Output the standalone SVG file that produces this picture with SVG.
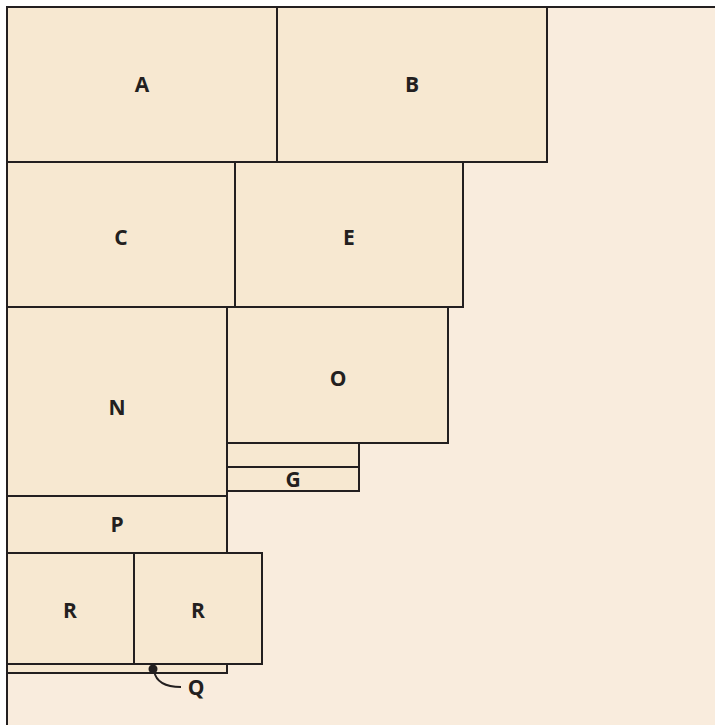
<svg xmlns="http://www.w3.org/2000/svg" width="715" height="725" viewBox="0 0 715 725">
<style>
.bx{fill:#f7e8d1;stroke:#231f20;stroke-width:2}
.lb{font-family:"Open Sans","Liberation Sans",sans-serif;font-weight:bold;font-size:21px;fill:#231f20;text-anchor:middle}
</style>
<rect x="0" y="0" width="715" height="725" fill="#ffffff"/>
<rect x="7" y="7" width="708" height="718" fill="#f9ecdd"/>
<g id="A"><rect class="bx" x="7" y="7" width="270" height="155"/><text class="lb" x="142" y="92">A</text></g>
<g id="B"><rect class="bx" x="277" y="7" width="270" height="155"/><text class="lb" x="412" y="92">B</text></g>
<g id="C"><rect class="bx" x="7" y="162" width="228" height="145"/><text class="lb" x="121" y="245">C</text></g>
<g id="E"><rect class="bx" x="235" y="162" width="228" height="145"/><text class="lb" x="349" y="245">E</text></g>
<g id="O"><rect class="bx" x="227" y="307" width="221" height="136"/><text class="lb" x="338" y="386">O</text></g>
<g id="strip"><rect class="bx" x="227" y="443" width="132" height="24"/></g>
<g id="G"><rect class="bx" x="227" y="467" width="132" height="24"/><text class="lb" x="293" y="487">G</text></g>
<g id="N"><rect class="bx" x="7" y="307" width="220" height="189"/><text class="lb" x="117" y="415">N</text></g>
<g id="P"><rect class="bx" x="7" y="496" width="220" height="57"/><text class="lb" x="117" y="532">P</text></g>
<g id="Qstrip"><rect class="bx" x="7" y="664" width="220" height="9"/></g>
<g id="R1"><rect class="bx" x="7" y="553" width="127" height="111"/><text class="lb" x="70" y="618">R</text></g>
<g id="R2"><rect class="bx" x="134" y="553" width="128" height="111"/><text class="lb" x="198" y="618">R</text></g>
<g id="frame" fill="none" stroke="#231f20" stroke-width="2"><path d="M7 725 V7 H715"/></g>
<g id="connectors">
<circle cx="153" cy="669" r="4.5" fill="#231f20"/>
<path d="M154 671 C156 682 166 687 181 687" fill="none" stroke="#231f20" stroke-width="1.8"/>
</g>
<g id="Q"><text class="lb" x="196" y="695">Q</text></g>
</svg>
